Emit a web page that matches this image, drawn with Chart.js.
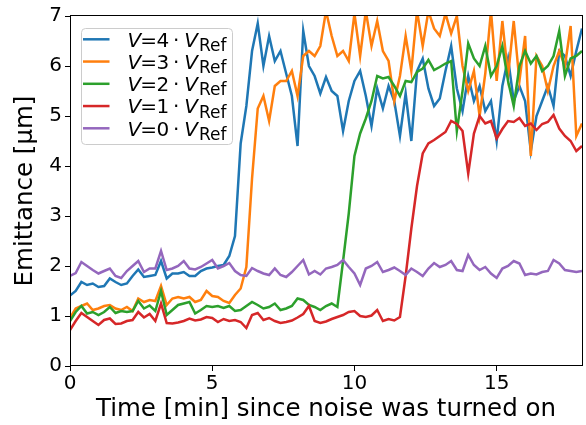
<!DOCTYPE html>
<html>
<head>
<meta charset="utf-8">
<script src="https://cdn.jsdelivr.net/npm/chart.js@4.4.1/dist/chart.umd.min.js"></script>
<style>
  body { margin: 0; background: #fff; }
  canvas { display: block; }
</style>
</head>
<body>
<canvas id="myChart" width="586" height="425"></canvas>
<script>
// time in minutes
const times = [0,0.2,0.4,0.6,0.8,1,1.2,1.4,1.6,1.8,
  2,2.2,2.4,2.6,2.8,3,3.2,3.4,3.6,3.8,
  4,4.2,4.4,4.6,4.8,5,5.2,5.4,5.6,5.8,
  6,6.2,6.4,6.6,6.8,7,7.2,7.4,7.6,7.8,
  8,8.2,8.4,8.6,8.8,9,9.2,9.4,9.6,9.8,
  10,10.2,10.4,10.6,10.8,11,11.2,11.4,11.6,11.8,
  12,12.2,12.4,12.6,12.8,13,13.2,13.4,13.6,13.8,
  14,14.2,14.4,14.6,14.8,15,15.2,15.4,15.6,15.8,
  16,16.2,16.4,16.6,16.8,17,17.2,17.4,17.6,17.8,
  18];

// emittance [um] per voltage
const v4 = [1.41,1.5,1.68,1.62,1.65,1.58,1.6,1.75,1.68,1.62,
  1.65,1.8,1.93,1.78,1.8,1.82,2.1,1.75,1.85,1.85,
  1.88,1.8,1.8,1.9,1.95,1.97,2.0,2.02,2.2,2.6,
  4.45,5.2,6.3,6.85,6.0,6.6,6.1,6.3,5.85,5.4,
  4.4,6.7,6.0,5.8,5.45,5.78,5.5,5.4,4.7,5.3,
  5.7,5.9,5.4,4.8,5.55,5.15,5.6,5.3,4.6,5.45,
  4.5,5.9,6.15,5.55,5.2,5.35,5.9,6.4,5.55,5.1,
  5.8,5.3,5.6,5.1,5.3,4.5,5.6,6.15,5.3,5.6,
  5.3,4.3,5.0,5.3,5.6,5.2,6.3,6.2,5.8,6.3,
  6.75];
const v3 = [0.96,1.15,1.2,1.25,1.12,1.15,1.2,1.22,1.15,1.12,
  1.18,1.1,1.35,1.28,1.32,1.3,1.6,1.22,1.35,1.38,
  1.35,1.38,1.28,1.32,1.5,1.4,1.38,1.3,1.26,1.42,
  1.55,1.98,3.75,5.15,5.4,4.9,5.6,5.7,5.7,5.9,
  5.4,6.2,6.3,6.2,6.4,7.1,6.6,6.2,6.3,6.1,
  7.05,6.2,7.1,6.4,6.9,6.3,6.1,5.3,5.8,6.6,
  5.9,7.1,6.4,7.1,6.75,6.6,7.05,6.65,7.0,6.0,
  5.5,5.9,5.0,5.85,7.1,5.7,6.9,5.8,6.9,5.7,
  6.6,4.2,6.2,6.0,5.5,6.0,6.3,6.0,6.8,4.6,
  4.85];
const v2 = [0.9,1.08,1.2,1.05,1.08,1.02,1.08,1.18,1.06,1.1,
  1.08,1.1,1.3,1.15,1.21,1.1,1.5,1.02,1.12,1.22,
  1.25,1.28,1.05,1.12,1.2,1.18,1.2,1.16,1.2,1.1,
  1.12,1.2,1.28,1.22,1.15,1.18,1.25,1.12,1.15,1.2,
  1.35,1.32,1.22,1.18,1.12,1.2,1.25,1.18,2.1,3.05,
  4.2,4.65,4.95,5.3,5.8,5.75,5.78,5.6,5.4,5.7,
  5.68,5.88,5.95,6.12,5.92,5.98,6.05,6.1,4.7,5.5,
  6.45,6.15,6.0,6.4,5.8,6.0,6.4,5.7,5.2,6.0,
  6.3,6.05,6.2,5.9,6.0,6.2,6.7,5.8,6.15,6.2,
  6.3];
const v1 = [0.72,0.9,1.06,0.98,0.9,0.82,0.92,0.95,0.84,0.85,
  0.9,0.92,1.08,0.97,1.04,0.9,1.25,0.86,0.85,0.87,
  0.9,0.95,0.91,0.93,0.98,0.96,0.88,0.94,0.9,0.92,
  0.88,0.76,1.02,1.06,0.92,0.96,0.9,0.86,0.88,0.91,
  0.97,1.04,1.2,0.9,0.86,0.89,0.94,0.98,1.02,1.08,
  1.1,1.0,0.98,1.01,1.12,0.9,0.94,0.91,0.98,1.8,
  2.75,3.6,4.25,4.45,4.52,4.6,4.68,4.9,4.84,4.7,
  3.85,4.65,5.0,4.85,4.9,4.55,4.74,4.9,4.88,4.96,
  4.8,4.85,4.72,4.84,4.88,5.02,4.75,4.6,4.5,4.3,
  4.4];
const v0 = [1.8,1.86,2.08,2.0,1.92,1.85,1.9,1.95,1.8,1.76,
  1.9,2.0,2.1,1.88,1.95,1.95,2.3,1.92,1.95,2.0,
  2.1,1.95,1.93,1.98,2.05,2.12,1.95,2.0,2.06,1.9,
  1.82,1.8,1.96,1.9,1.85,1.82,1.95,1.82,1.78,1.88,
  2.0,2.12,1.83,1.9,1.83,1.95,1.98,2.02,2.12,1.98,
  1.85,1.62,1.95,2.0,2.08,1.88,1.92,1.97,1.9,1.82,
  1.95,1.88,1.8,1.95,2.06,1.98,2.02,2.1,1.92,1.9,
  2.22,2.02,1.92,1.98,1.85,1.76,1.95,2.0,2.1,2.05,
  1.82,1.85,1.83,1.88,1.9,2.12,2.05,1.92,1.9,1.88,
  1.9];

const tickX = [0, 5, 10, 15];
const tickY = [0, 1, 2, 3, 4, 5, 6, 7];
const factors = ['4', '3', '2', '1', '0'];
const series = [v4, v3, v2, v1, v0];
const colors = ['#1f77b4', '#ff7f0e', '#2ca02c', '#d62728', '#9467bd'];

Chart.defaults.font.family = "'DejaVu Sans', sans-serif";
Chart.defaults.color = '#000';

function pts(vals) {
  return vals.map((v, i) => ({ x: times[i], y: v }));
}

// box around the axes (matplotlib spines)
const frame = {
  id: 'frame',
  afterDraw(chart) {
    const { ctx, chartArea: a } = chart;
    ctx.save();
    ctx.strokeStyle = '#000';
    ctx.lineWidth = 1;
    ctx.strokeRect(a.left + 0.5, a.top - 0.5, a.right - a.left, a.bottom - a.top);
    ctx.restore();
  }
};

// legend with V = n · V_Ref
const mathLegend = {
  id: 'mathLegend',
  afterDraw(chart) {
    const c = chart.ctx;
    c.save();
    c.beginPath();
    c.roundRect(81.5, 28.5, 151, 116, 4);
    c.fillStyle = 'rgba(255,255,255,0.8)';
    c.fill();
    c.strokeStyle = '#cccccc';
    c.lineWidth = 1;
    c.stroke();

    factors.forEach((f, i) => {
      const y = 39.3 + i * 22.25;
      c.beginPath();
      c.moveTo(83, y);
      c.lineTo(109.5, y);
      c.strokeStyle = colors[i];
      c.lineWidth = 2.5;
      c.stroke();

      c.fillStyle = '#000';
      c.textBaseline = 'alphabetic';
      c.textAlign = 'left';
      const base = y + 7.4;
      c.font = "oblique 20px 'DejaVu Sans'";
      c.fillText('V', 127.5, base);
      c.font = "20px 'DejaVu Sans'";
      c.fillText('=', 140.2, base);
      c.fillText(f, 156.4, base);
      c.fillText('\u00b7', 173, base);
      c.font = "oblique 20px 'DejaVu Sans'";
      c.fillText('V', 184.2, base);
      c.font = "17px 'DejaVu Sans'";
      c.fillText('Ref', 199, y + 11.5);
    });
    c.restore();
  }
};

const ctx = document.getElementById('myChart');

new Chart(ctx, {
  type: 'line',
  data: {
    datasets: series.map((s, i) => ({
      label: 'V=' + factors[i] + '·V_Ref',
      data: pts(s),
      borderColor: colors[i],
      borderWidth: 2.5,
      pointRadius: 0,
      tension: 0,
      fill: false,
      clip: 0,
      order: 4 - i
    }))
  },
  options: {
    responsive: false,
    animation: false,
    layout: { padding: { top: 16, right: 4, left: 0, bottom: 0 } },
    plugins: {
      legend: { display: false },
      tooltip: { enabled: false }
    },
    scales: {
      x: {
        type: 'linear',
        min: 0,
        max: 18,
        afterBuildTicks: s => { s.ticks = tickX.map(v => ({ value: v })); },
        afterFit: s => { s.height = 59; },
        ticks: { font: { size: 20 }, color: '#000', autoSkip: false, maxRotation: 0, padding: 1 },
        grid: { drawOnChartArea: false, color: '#000', tickLength: 5 },
        border: { display: false },
        title: {
          display: true,
          text: 'Time [min] since noise was turned on',
          font: { size: 24.5 },
          color: '#000',
          padding: { top: 0, bottom: 1 }
        }
      },
      y: {
        min: 0,
        max: 7,
        afterBuildTicks: s => { s.ticks = tickY.map(v => ({ value: v })); },
        afterFit: s => { s.width = 70; },
        ticks: { font: { size: 20 }, color: '#000', autoSkip: false, padding: 3 },
        grid: { drawOnChartArea: false, color: '#000', tickLength: 5 },
        border: { display: false },
        title: {
          display: true,
          text: 'Emittance [μm]',
          font: { size: 24.5 },
          color: '#000',
          padding: { top: 11, bottom: 0 }
        }
      }
    }
  },
  plugins: [frame, mathLegend]
});
</script>
</body>
</html>
